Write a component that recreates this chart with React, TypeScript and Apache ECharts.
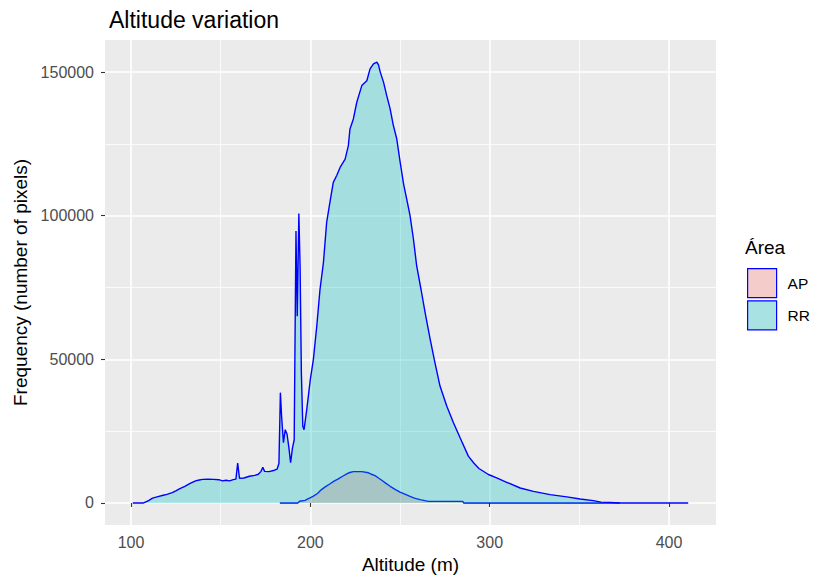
import { useEffect, useRef } from "react";
import * as echarts from "echarts";

const rrAltitude = [
  101, 107, 108, 110, 112, 115, 118, 120, 123, 125, 127, 130, 133, 136, 138, 140, 143, 146, 149, 151, 153, 155,
  157, 158.5, 159.5, 160.5, 163, 166, 169, 171, 172.5, 173.5, 174.5, 177, 180, 181.5, 182.5, 183.3, 184, 185,
  186, 187, 188, 189, 190, 191, 191.5, 192, 192.7, 193.6, 194.3, 195, 195.8, 196.5, 198, 200, 201.7, 203.6,
  205.4, 207.3, 209.1, 211, 212.8, 214.7, 216.6, 219.4, 221.2, 222.1, 224, 225.9, 228.7, 231.5, 233.3, 235.2,
  237.1, 238, 239, 240.8, 242.6, 244.5, 246.3, 248.2, 250.1, 252, 254, 255.6, 257.5, 259.3, 261.7, 264, 266.8,
  269.5, 272.3, 276.1, 279.8, 283.5, 288.1, 291, 294, 299.3, 303.9, 309.5, 317, 324.4, 333.7, 343, 350.4,
  357.8, 362, 367, 372.5,
];
const rrFrequency = [
  0, 0, 300, 900, 1700, 2200, 2700, 3000, 3600, 4200, 4900, 5800, 6800, 7700, 8000, 8200, 8300, 8200, 8100,
  7700, 7900, 7700, 8100, 8300, 13900, 8600, 8700, 9300, 9600, 10000, 11000, 12400, 11000, 10900, 11400, 11800,
  13800, 38400, 30000, 21000, 25500, 24000, 19500, 14000, 19000, 22000, 58700, 94700, 65000, 100800, 82000,
  45300, 26700, 25500, 32500, 43000, 50000, 61600, 74400, 83700, 97700, 105000, 111600, 114000, 116800, 119700,
  124400, 130200, 133700, 139500, 145300, 147000, 151100, 152900, 153500, 152500, 150000, 146500, 141800,
  137200, 131400, 126700, 118600, 111000, 105000, 100000, 91800, 82500, 74400, 66300, 57000, 48800, 40700,
  33700, 27900, 22700, 16300, 14000, 12000, 9900, 8700, 7200, 5200, 4050, 2900, 2100, 1400, 800, 300, 200, 0,
];

const apAltitude = [
  183, 193, 194, 197, 201.5, 204, 206.2, 208.5, 210.8, 213, 215.6, 218, 220.3, 222, 224, 228.7, 232.4, 234,
  236.1, 238, 239.8, 242, 244.5, 247, 250, 253, 255.6, 258, 261.2, 265.8, 285, 285.5, 410.7,
];
const apFrequency = [
  0, 0, 600, 900, 2300, 3300, 4650, 5700, 6600, 7500, 8400, 9300, 10100, 10600, 10900, 10900, 10500, 10000,
  9500, 8700, 7900, 6900, 5800, 4800, 3800, 3000, 2300, 1700, 1150, 560, 560, 0, 0,
];

const seriesNames = ["AP", "RR"];
const xMajor = [100, 200, 300, 400];
const xMinor = [150, 250, 350];
const yMajor = [0, 50000, 100000, 150000];
const yMinor = [25000, 75000, 125000];

const FONT = "'Liberation Sans', Arial, sans-serif";

export default function App() {
  const ref = useRef<HTMLDivElement>(null);
  useEffect(() => {
    const chart = echarts.init(ref.current!, null, { renderer: "svg" });
    const allX = [...rrAltitude, ...apAltitude];
    const allY = [...rrFrequency, ...apFrequency];
    const xLo = Math.min(...allX);
    const xHi = Math.max(...allX);
    const yLo = Math.min(...allY);
    const yHi = Math.max(...allY);
    const xPad = (xHi - xLo) * 0.05;
    const yPad = (yHi - yLo) * 0.05;
    const xMin = xLo - xPad;
    const xMax = xHi + xPad;
    const yMin = yLo - yPad;
    const yMax = yHi + yPad;

    const fills = ["rgba(248,118,109,0.3)", "rgba(0,191,196,0.3)"];
    const keyFills = ["#F4CCCA", "#A9E2E3"];

    const xBase = {
      type: "value",
      min: xMin,
      max: xMax,
      axisLine: { show: false },
    };
    const yBase = {
      type: "value",
      min: yMin,
      max: yMax,
      axisLine: { show: false },
    };

    const option: any = {
      animation: false,
      backgroundColor: "#FFFFFF",
      textStyle: { fontFamily: FONT },
      title: {
        text: "Altitude variation",
        left: 104,
        top: 3,
        textStyle: { fontSize: 23, fontWeight: "normal", color: "#000000", fontFamily: FONT },
      },
      grid: {
        left: 105,
        top: 40,
        right: 98,
        bottom: 55,
        show: true,
        backgroundColor: "#EBEBEB",
        borderWidth: 0,
      },
      legend: {
        orient: "vertical",
        left: 747,
        top: 268,
        padding: 0,
        itemWidth: 29,
        itemHeight: 29,
        itemGap: 2,
        icon: "rect",
        selectedMode: false,
        textStyle: { fontSize: 15.5, color: "#000000", fontFamily: FONT, padding: [0, 0, 0, 6] },
        data: seriesNames.map((n, i) => ({
          name: n,
          icon: "rect",
          itemStyle: { color: keyFills[i], borderColor: "#0000FF", borderWidth: 1.2 },
        })),
      },
      graphic: [
        {
          type: "text",
          left: 745,
          top: 238,
          style: { text: "Área", fontSize: 19, fill: "#000000", fontFamily: FONT },
        },
      ],
      xAxis: [
        {
          ...xBase,
          axisTick: { show: true, customValues: xMajor, length: 4, lineStyle: { color: "#333333", width: 1.1 } },
          axisLabel: {
            customValues: xMajor,
            margin: 9,
            color: "#4D4D4D",
            fontSize: 16,
            fontFamily: FONT,
            formatter: (v: number) => String(v),
          },
          splitLine: { show: true, lineStyle: { color: "#FFFFFF", width: 1.6 } },
          name: "Altitude (m)",
          nameLocation: "middle",
          nameGap: 27,
          nameTextStyle: { color: "#000000", fontSize: 19, fontFamily: FONT },
        },
        {
          ...xBase,
          axisTick: { show: false, customValues: xMinor },
          axisLabel: { show: false, customValues: xMinor },
          splitLine: { show: true, lineStyle: { color: "#FFFFFF", width: 0.8 } },
        },
      ],
      yAxis: [
        {
          ...yBase,
          axisTick: { show: true, customValues: yMajor, length: 4, lineStyle: { color: "#333333", width: 1.1 } },
          axisLabel: {
            customValues: yMajor,
            margin: 11,
            color: "#4D4D4D",
            fontSize: 16,
            fontFamily: FONT,
            formatter: (v: number) => String(v),
          },
          splitLine: { show: true, lineStyle: { color: "#FFFFFF", width: 1.6 } },
          name: "Frequency (number of pixels)",
          nameLocation: "middle",
          nameGap: 71,
          nameRotate: 90,
          nameTextStyle: { color: "#000000", fontSize: 19, fontFamily: FONT },
        },
        {
          ...yBase,
          axisTick: { show: false, customValues: yMinor },
          axisLabel: { show: false, customValues: yMinor },
          splitLine: { show: true, lineStyle: { color: "#FFFFFF", width: 0.8 } },
        },
      ],
      series: [
        {
          name: "AP",
          type: "line",
          xAxisIndex: 0,
          yAxisIndex: 0,
          data: apAltitude.map((a, i) => [a, apFrequency[i]]),
          symbol: "none",
          showSymbol: false,
          lineStyle: { color: "#0000FF", width: 1.4 },
          itemStyle: { color: "#0000FF" },
          areaStyle: { color: fills[0], opacity: 1 },
          z: 2,
        },
        {
          name: "RR",
          type: "line",
          xAxisIndex: 0,
          yAxisIndex: 0,
          data: rrAltitude.map((a, i) => [a, rrFrequency[i]]),
          symbol: "none",
          showSymbol: false,
          lineStyle: { color: "#0000FF", width: 1.4 },
          itemStyle: { color: "#0000FF" },
          areaStyle: { color: fills[1], opacity: 1 },
          z: 3,
        },
      ],
    };
    chart.setOption(option);
    return () => chart.dispose();
  }, []);
  return <div ref={ref} style={{ position: "fixed", left: 0, top: 0, width: 814, height: 580 }} />;
}
